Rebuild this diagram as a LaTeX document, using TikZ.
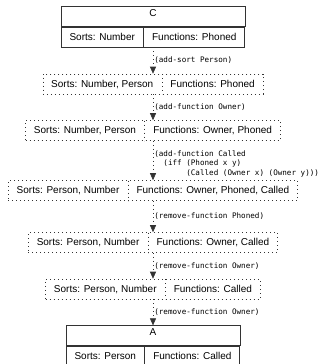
\documentclass[tikz,border=0pt]{standalone}
\usepackage{fontspec}
\setmainfont{Liberation Sans}
\setmonofont{DejaVu Sans Mono}
\usetikzlibrary{shapes.multipart,fit,arrows.meta}

\tikzset{
	theorybox/.style={rectangle split, rectangle split horizontal, rectangle split parts=2,
		draw=black!80, line width=0.6pt, inner xsep=8.3pt, inner ysep=5pt,
		text height=8pt, text depth=2pt, font=\fontsize{10}{12}\selectfont},
	stepbox/.style={theorybox, dash pattern=on 0.8pt off 3.2pt},
	headbox/.style={draw=black!80, line width=0.6pt, inner sep=0pt, font=\fontsize{10}{12}\selectfont},
	changearrow/.style={draw=black!80, line width=0.6pt, dash pattern=on 0.8pt off 3.2pt,
		-{Triangle[length=7pt,width=6pt]}},
	changelabel/.style={midway, anchor=west, inner xsep=1pt, align=left,
		font=\ttfamily\fontsize{7.6}{9.5}\selectfont}
}

\begin{document}
\begin{tikzpicture}[x=1pt, y=-1pt]
	
	\def\midx{153} % x of the middle line
	\def\headh{20pt} % height of a title row
	
	% Fix the page to the size of the picture
	\useasboundingbox (0,0) rectangle (329,364);
	
	% Theory C at the top
	\node[theorybox] (rowC) at (\midx,37) {Sorts: Number \nodepart{two} Functions: Phoned};
	\node[headbox, fit={(rowC.north west) ([yshift=\headh]rowC.north east)}] (headC) {C};
	
	% The steps in between
	\node[stepbox] (row2) at (\midx,84) {Sorts: Number, Person \nodepart{two} Functions: Phoned};
	\node[stepbox] (row3) at (\midx,130.5) {Sorts: Number, Person \nodepart{two} Functions: Owner, Phoned};
	\node[stepbox] (row4) at (\midx,190.5) {Sorts: Person, Number \nodepart{two} Functions: Owner, Phoned, Called};
	\node[stepbox] (row5) at (\midx,242.5) {Sorts: Person, Number \nodepart{two} Functions: Owner, Called};
	\node[stepbox] (row6) at (\midx,289) {Sorts: Person, Number \nodepart{two} Functions: Called};
	
	% Theory A at the bottom
	\node[theorybox] (rowA) at (\midx,356) {Sorts: Person \nodepart{two} Functions: Called};
	\node[headbox, fit={(rowA.north west) ([yshift=\headh]rowA.north east)}] (headA) {A};
	
	% Arrows with the changes
	\draw[changearrow] (rowC.south) -- (row2.north) node[changelabel] {(add-sort Person)};
	\draw[changearrow] (row2.south) -- (row3.north) node[changelabel] {(add-function Owner)};
	\draw[changearrow] (row3.south) -- (row4.north) node[changelabel, yshift=-3pt]
		{(add-function Called\\
		\phantom{xx}(iff (Phoned x y)\\
		\phantom{xxxxxxx}(Called (Owner x) (Owner y)))};
	\draw[changearrow] (row4.south) -- (row5.north) node[changelabel] {(remove-function Phoned)};
	\draw[changearrow] (row5.south) -- (row6.north) node[changelabel] {(remove-function Owner)};
	\draw[changearrow] (row6.south) -- (headA.north) node[changelabel] {(remove-function Owner)};
	
\end{tikzpicture}
\end{document}
